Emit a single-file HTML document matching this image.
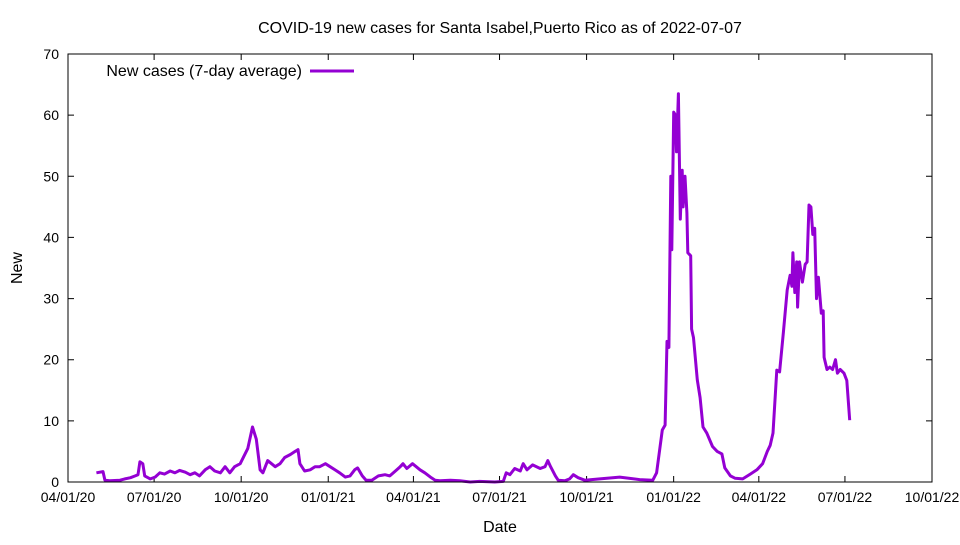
<!DOCTYPE html>
<html><head><meta charset="utf-8"><style>
body{margin:0;background:#fff}
svg text{font-family:"Liberation Sans",sans-serif;fill:#000}
</style></head><body>
<svg id="chart" width="960" height="540" xmlns="http://www.w3.org/2000/svg">
<text x="500" y="33" font-size="16" text-anchor="middle">COVID-19 new cases for Santa Isabel,Puerto Rico as of 2022-07-07</text>
<text x="500" y="532" font-size="16" text-anchor="middle">Date</text>
<text x="22" y="268" font-size="16" text-anchor="middle" transform="rotate(-90 22 268)">New</text>
<g id="axes"></g>
<g id="series"></g>
<g>
<text x="302" y="76" font-size="16" text-anchor="end">New cases (7-day average)</text>
<line x1="310" y1="71" x2="354" y2="71" stroke="#9400d3" stroke-width="3"/>
</g>
<rect x="68" y="54" width="864" height="428" fill="none" stroke="#000" stroke-width="1"/>
</svg>
<script>
const yTicks=[0,10,20,30,40,50,60,70];
const xTickDays=[0,91,183,275,365,456,548,640,730,821,913];
const xTickLabels=["04/01/20","07/01/20","10/01/20","01/01/21","04/01/21","07/01/21","10/01/21","01/01/22","04/01/22","07/01/22","10/01/22"];
const days=[30,37,39,44,55,60,66,71,74,76,79,81,87,92,97,102,108,113,118,124,129,134,139,145,150,155,161,166,171,176,182,190,195,199,203,206,211,219,224,229,235,240,243,245,250,256,261,266,272,277,282,287,293,298,303,306,311,315,321,328,335,340,346,351,354,358,364,368,372,377,383,388,393,404,414,425,435,451,460,463,467,472,478,481,485,491,499,504,507,510,515,518,525,530,534,539,546,562,583,604,618,622,628,631,633,635,637,638,640,642,643,645,647,649,650,652,654,655,658,659,661,665,668,671,675,681,686,691,694,700,705,713,721,728,734,739,742,745,749,752,756,760,763,765,766,768,770,771,773,776,779,781,783,785,787,789,791,793,796,798,799,802,805,808,811,813,816,820,823,826];
const values=[1.5,1.7,0.3,0.2,0.3,0.5,0.7,1.0,1.2,3.3,3.0,1.0,0.5,0.8,1.5,1.3,1.8,1.5,1.9,1.6,1.2,1.5,1.0,2.0,2.5,1.8,1.5,2.5,1.5,2.5,3.0,5.5,9.0,7.0,2.0,1.5,3.5,2.5,3.0,4.0,4.5,5.0,5.3,3.0,1.8,2.0,2.5,2.5,3.0,2.5,2.0,1.5,0.8,1.0,2.0,2.3,1.0,0.3,0.3,1.0,1.2,1.0,1.8,2.5,3.0,2.2,3.0,2.5,2.0,1.5,0.8,0.3,0.2,0.3,0.2,0.0,0.1,0.0,0.1,1.5,1.2,2.2,1.8,3.0,2.0,2.8,2.2,2.5,3.5,2.5,1.0,0.3,0.2,0.5,1.2,0.7,0.3,0.5,0.8,0.4,0.3,1.5,8.5,9.3,23,22,50,38,60.5,60,54,63.5,43,51,45,50,44,37.5,37,25,23.6,16.7,13.8,9,8,5.8,5,4.6,2.3,1.0,0.6,0.5,1.3,2,3,5,6,8,18.3,18,24.5,31.4,33.8,32,37.5,31,36,28.6,36,32.7,35.6,36,45.3,45,40.5,41.5,30,33.5,27.6,28,20.4,18.4,18.8,18.4,20,17.8,18.4,17.8,16.6,10.1];
const X0=68,X1=932,Y0=482,Y1=54;
const xs=d=>X0+d*(X1-X0)/913;
const ys=v=>Y0-v*(Y0-Y1)/70;
const NS="http://www.w3.org/2000/svg";
const axes=document.getElementById('axes');
yTicks.forEach(t=>{
  const y=ys(t);
  const l=document.createElementNS(NS,'path');
  l.setAttribute('d',`M${X0} ${y}h6M${X1} ${y}h-6`);
  l.setAttribute('stroke','#000');
  
  
  axes.appendChild(l);
  const tx=document.createElementNS(NS,'text');
  tx.setAttribute('x',X0-9);tx.setAttribute('y',y+5);
  tx.setAttribute('font-size','14');tx.setAttribute('text-anchor','end');
  tx.textContent=t;
  
  
  axes.appendChild(tx);
});
xTickDays.forEach((d,i)=>{
  const x=xs(d);
  const l=document.createElementNS(NS,'path');
  l.setAttribute('d',`M${x} ${Y0}v-6M${x} ${Y1}v6`);
  l.setAttribute('stroke','#000');
  
  
  axes.appendChild(l);
  const tx=document.createElementNS(NS,'text');
  tx.setAttribute('x',x);tx.setAttribute('y',Y0+20);
  tx.setAttribute('font-size','14');tx.setAttribute('text-anchor','middle');
  tx.textContent=xTickLabels[i];
  
  
  axes.appendChild(tx);
});
const p=document.createElementNS(NS,'path');
p.setAttribute('d',days.map((d,i)=>(i?'L':'M')+xs(d).toFixed(1)+' '+ys(values[i]).toFixed(1)).join(''));
p.setAttribute('fill','none');p.setAttribute('stroke','#9400d3');
p.setAttribute('stroke-width','3');p.setAttribute('stroke-linejoin','round');


document.getElementById('series').appendChild(p);
</script>
</body></html>
